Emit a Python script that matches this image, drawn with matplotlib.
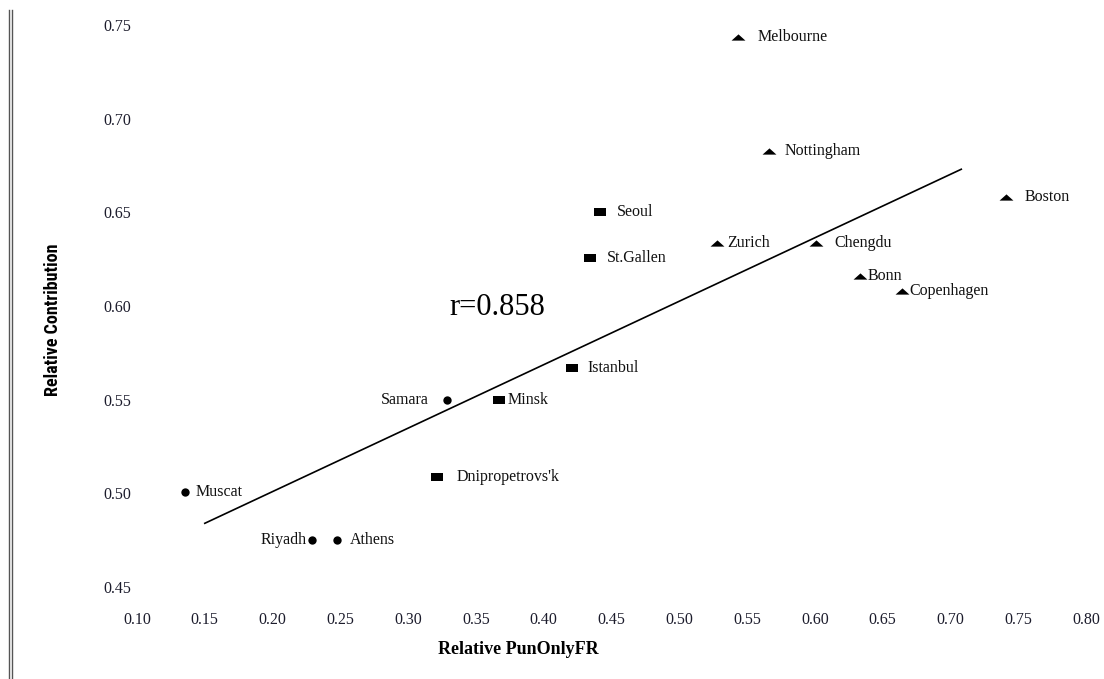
import matplotlib
matplotlib.use("Agg")
import matplotlib.pyplot as plt
from matplotlib.lines import Line2D
from matplotlib import font_manager

# city values
cities = ["Melbourne", "Nottingham", "Boston", "Zurich", "Chengdu", "Bonn",
          "Copenhagen", "Seoul", "St.Gallen", "Istanbul", "Minsk",
          "Dnipropetrovs'k", "Samara", "Muscat", "Riyadh", "Athens"]
pun_only_fr = [0.543, 0.566, 0.741, 0.528, 0.601, 0.633,
               0.664, 0.4415, 0.434, 0.421, 0.367,
               0.321, 0.3286, 0.1354, 0.229, 0.2475]
contribution = [0.7436, 0.6827, 0.658, 0.6336, 0.6336, 0.616,
                0.608, 0.650, 0.6256, 0.5669, 0.550,
                0.5087, 0.5498, 0.5007, 0.475, 0.475]
groups = ["tri", "tri", "tri", "tri", "tri", "tri",
          "tri", "sq", "sq", "sq", "sq",
          "sq", "dot", "dot", "dot", "dot"]

fit_x = [0.150, 0.708]
fit_y = [0.484, 0.673]
r_value = 0.858

x_ticks = [0.10, 0.15, 0.20, 0.25, 0.30, 0.35, 0.40, 0.45, 0.50, 0.55,
           0.60, 0.65, 0.70, 0.75, 0.80]
y_ticks = [0.45, 0.50, 0.55, 0.60, 0.65, 0.70, 0.75]

# label offsets in pixels (dx), negative = label on the left
label_dx = [20, 16, 19, 10, 18, 8, 8, 17, 17, 15, 9, 20, -18, 11, -5, 13]

names = {f.name for f in font_manager.fontManager.ttflist}
narrow = "Liberation Sans"
narrow_stretch = "normal"
for cand in ["Liberation Sans Narrow", "DejaVu Sans Condensed", "Roboto Condensed",
             "Open Sans Condensed"]:
    if cand in names:
        narrow = cand
        break
else:
    # same family can carry a condensed face
    for f in font_manager.fontManager.ttflist:
        if f.name in ("DejaVu Sans", "Open Sans", "Noto Sans") and f.stretch in (
                "condensed", "semi-condensed", 75, 87.5) and f.weight in ("bold", 700):
            narrow = f.name
            narrow_stretch = "condensed"
            break
serif = "Liberation Serif"

tri = [(-1, -0.45), (1, -0.45), (0, 0.45)]
sq = [(-1, -0.65), (1, -0.65), (1, 0.65), (-1, 0.65)]
styles = {"tri": dict(marker=tri, s=100), "sq": dict(marker=sq, s=70),
          "dot": dict(marker="o", s=36)}

fig = plt.figure(figsize=(11.04, 6.79), dpi=100)
ax = fig.add_axes([137 / 1104, 92 / 679, (1086 - 137) / 1104, (587 - 25) / 679])
ax.set_xlim(0.10, 0.80)
ax.set_ylim(0.45, 0.75)
for s in ax.spines.values():
    s.set_visible(False)

for g in ["tri", "sq", "dot"]:
    xs = [x for x, k in zip(pun_only_fr, groups) if k == g]
    ys = [y for y, k in zip(contribution, groups) if k == g]
    ax.scatter(xs, ys, color="black", linewidths=0, clip_on=False, **styles[g])

for name, x, y, dx in zip(cities, pun_only_fr, contribution, label_dx):
    ax.annotate(name, (x, y), xytext=(dx, 0), textcoords="offset pixels",
                ha="left" if dx > 0 else "right", va="center",
                fontsize=11.5, family=serif, color="#111111")

ax.plot(fit_x, fit_y, color="black", linewidth=1.2)
ax.text(0.3655, 0.5994, "r=%.3f" % r_value, fontsize=22, family=serif,
        ha="center", va="center")

ax.set_xticks(x_ticks)
ax.set_xticklabels(["%.2f" % v for v in x_ticks])
ax.set_yticks(y_ticks)
ax.set_yticklabels(["%.2f" % v for v in y_ticks])
ax.tick_params(axis="x", length=0, pad=18, labelsize=11.5, labelcolor="#1c1c2c")
ax.tick_params(axis="y", length=0, pad=4, labelsize=11.5, labelcolor="#1c1c2c")
for lab in ax.get_xticklabels() + ax.get_yticklabels():
    lab.set_family(serif)

fig.text(518 / 1104, 1 - 649 / 679, "Relative PunOnlyFR", ha="center", va="center",
         fontsize=13, family=serif, fontweight="bold")
fig.text(53 / 1104, 1 - 320 / 679, "Relative Contribution", ha="center", va="center",
         rotation=90, fontsize=13 if narrow_stretch == "condensed" or narrow != "Liberation Sans" else 11.5,
         family=narrow, fontweight="bold", fontstretch=narrow_stretch)

# double rule on the left edge
for xp in [8.5, 11.5]:
    fig.add_artist(Line2D([xp / 1104, xp / 1104], [0, 1 - 10 / 679],
                          transform=fig.transFigure, color="#555555", linewidth=1))

fig.savefig("out.png", dpi=100)
